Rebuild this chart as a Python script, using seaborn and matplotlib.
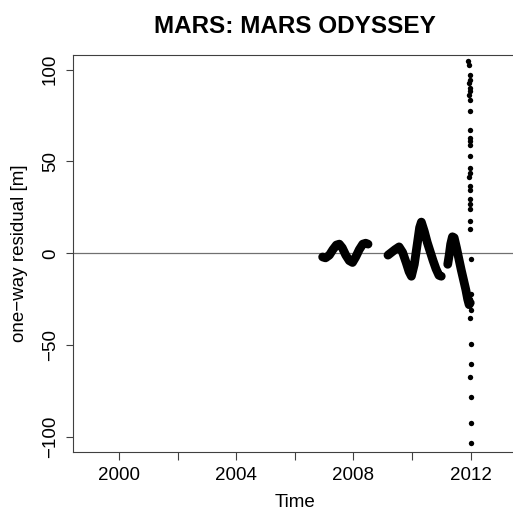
import numpy as np
import pandas as pd
import matplotlib
matplotlib.use("Agg")
import matplotlib.pyplot as plt
import seaborn as sns

# dense tracking arcs
seg1_year = [2006.95, 2007.05, 2007.18, 2007.30, 2007.42, 2007.52, 2007.62, 2007.74,
             2007.86, 2007.97, 2008.08, 2008.20, 2008.32, 2008.42, 2008.50]
seg1_resid = [-2.0, -2.5, -1.0, 2.0, 4.5, 5.0, 3.0, -1.0, -4.0, -5.0, -2.0, 2.0, 5.0, 5.5, 5.0]

seg2_year = [2009.18, 2009.30, 2009.42, 2009.56, 2009.68, 2009.80, 2009.90, 2009.98,
             2010.08, 2010.18, 2010.26, 2010.32, 2010.42, 2010.52, 2010.62,
             2010.72, 2010.82, 2010.92, 2011.00]
seg2_resid = [-1.0, 0.5, 2.0, 3.5, 0.5, -5.0, -10.0, -12.5, -6.0, 5.0, 14.0, 17.0,
              12.0, 6.0, 1.0, -4.0, -8.5, -12.0, -12.5]

seg3_year = [2011.22, 2011.27, 2011.32, 2011.38, 2011.44, 2011.52, 2011.60, 2011.68,
             2011.76, 2011.84, 2011.90, 2011.95, 2011.99]
seg3_resid = [-6.0, -1.0, 5.0, 9.0, 8.5, 3.0, -3.0, -9.0, -14.5, -20.0, -25.0, -28.0, -27.0]

# scattered points at the end of 2011
dot_year = [2011.92, 2011.93, 2011.97, 2011.98, 2011.96, 2011.97, 2011.99, 2011.96,
            2011.98, 2011.99, 2011.99, 2011.97, 2011.98, 2011.97, 2011.97, 2011.98,
            2011.97, 2011.96, 2011.98, 2011.97, 2011.98, 2011.98, 2011.99, 2011.98,
            2011.99, 2012.00, 2012.00, 2011.99, 2012.00, 2011.99, 2012.01, 2012.00,
            2011.99, 2012.00, 2012.00, 2012.00]
dot_resid = [104.8, 102.5, 97.0, 94.3, 92.5, 90.3, 88.5, 86.1, 83.4, 77.5, 67.4, 63.0,
             61.2, 58.9, 52.9, 46.2, 43.8, 41.6, 36.5, 34.7, 29.8, 27.0, 24.0, 17.4,
             13.1, -3.3, -22.0, -25.0, -31.0, -35.0, -49.2, -60.1, -67.4, -78.3,
             -92.5, -103.4]

tracks = pd.concat([
    pd.DataFrame({"year": seg1_year, "resid": seg1_resid, "seg": 1}),
    pd.DataFrame({"year": seg2_year, "resid": seg2_resid, "seg": 2}),
    pd.DataFrame({"year": seg3_year, "resid": seg3_resid, "seg": 3}),
])
dots = pd.DataFrame({"year": dot_year, "resid": dot_resid})

sns.set_theme(style="ticks")
plt.rcParams['font.family'] = ['Liberation Sans', 'DejaVu Sans']
plt.rcParams['text.color'] = 'black'
plt.rcParams['axes.labelcolor'] = 'black'

fig = plt.figure(figsize=(5.13, 5.16), dpi=100)
ax = fig.add_axes([0.1429, 0.1234, 0.8635, 0.770])

ax.axhline(0, color='#707070', lw=0.9, zorder=1)
sns.lineplot(data=tracks, x="year", y="resid", units="seg", estimator=None,
             color='black', lw=6.3, solid_capstyle='round', sort=False, ax=ax, zorder=3)
sns.scatterplot(data=dots, x="year", y="resid", color='black', s=15, linewidth=0,
                ax=ax, zorder=3)

ax.set_xlim(1998.44, 2013.56)
ax.set_ylim(-108.4, 108.0)

xt = [2000, 2002, 2004, 2006, 2008, 2010, 2012]
ax.set_xticks(xt)
ax.set_xticklabels([str(t) if t % 4 == 0 else '' for t in xt])
ax.set_yticks([-100, -50, 0, 50, 100])
ax.set_yticklabels(['\u2212100', '\u221250', '0', '50', '100'], rotation=90, va='center')

ax.tick_params(axis='both', length=5.4, width=0.8, color='#404040', labelsize=13.5,
               labelcolor='black', pad=5)
for side in ['left', 'bottom', 'top', 'right']:
    ax.spines[side].set_color('#404040')
    ax.spines[side].set_linewidth(0.8)

ax.set_xlabel("Time", fontsize=13.5, color='black')
ax.set_ylabel("one\u2212way residual [m]", fontsize=13.5, color='black')
ax.xaxis.set_label_coords(0.5, -0.105)
ax.yaxis.set_label_coords(-0.103, 0.5)
ax.set_title("MARS: MARS ODYSSEY", fontsize=17.5, fontweight='bold', pad=16, color='black')

fig.savefig("out.png", dpi=100)
